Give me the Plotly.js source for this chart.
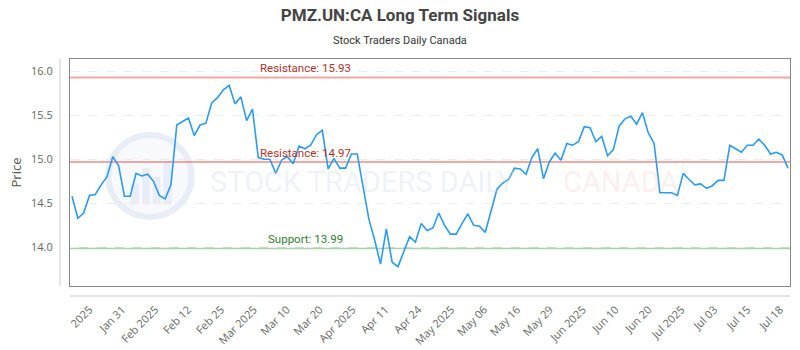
<!DOCTYPE html>
<html><head><meta charset="utf-8">
<script src="https://cdn.plot.ly/plotly-3.0.1.min.js"></script>
<style>html,body{margin:0;padding:0;background:#fff}#chart{width:800px;height:350px}</style>
</head><body><div id="chart"></div>
<script>
const titleText = 'PMZ.UN:CA Long Term Signals';
const subtitleText = 'Stock Traders Daily Canada';
const yAxisLabel = 'Price';

const prices = [
  14.58, 14.33, 14.39, 14.59, 14.60, 14.71, 14.80, 15.03, 14.93, 14.58,
  14.58, 14.84, 14.81, 14.83, 14.75, 14.59, 14.55, 14.71, 15.39, 15.43,
  15.47, 15.27, 15.39, 15.41, 15.64, 15.70, 15.79, 15.84, 15.63, 15.71,
  15.44, 15.57, 15.02, 15.00, 15.00, 14.84, 14.99, 15.03, 14.95, 15.15,
  15.12, 15.16, 15.28, 15.33, 14.89, 15.01, 14.90, 14.90, 15.06, 15.06,
  14.70, 14.32, 14.08, 13.81, 14.21, 13.83, 13.78, 13.94, 14.12, 14.06,
  14.27, 14.19, 14.22, 14.39, 14.25, 14.15, 14.15, 14.27, 14.38, 14.25,
  14.24, 14.17, 14.41, 14.66, 14.73, 14.77, 14.90, 14.89, 14.83, 15.02,
  15.12, 14.78, 14.97, 15.07, 14.99, 15.18, 15.16, 15.20, 15.37, 15.36,
  15.20, 15.26, 15.04, 15.11, 15.38, 15.46, 15.49, 15.40, 15.53, 15.30,
  15.18, 14.62, 14.62, 14.62, 14.59, 14.84, 14.77, 14.71, 14.72, 14.67,
  14.70, 14.76, 14.76, 15.16, 15.12, 15.08, 15.16, 15.16, 15.23, 15.16,
  15.06, 15.08, 15.05, 14.90
];

const tickLabels = ['2025','Jan 31','Feb 2025','Feb 12','Feb 25','Mar 2025','Mar 10','Mar 20',
  'Apr 2025','Apr 11','Apr 24','May 2025','May 06','May 16','May 29','Jun 2025','Jun 10',
  'Jun 20','Jul 2025','Jul 03','Jul 15','Jul 18'];

const resistanceLevels = [15.93, 14.97];
const supportLevels = [13.99];
const yTickValues = [14.0, 14.5, 15.0, 15.5, 16.0];

const xs = prices.map((_, i) => i);
const tickStart = 3.0, tickStep = 5.65;
const tickVals = tickLabels.map((_, k) => tickStart + k * tickStep);

const resColor = 'rgba(238,120,110,0.65)';
const supColor = 'rgba(120,190,120,0.65)';

const shapes = [];
const annotations = [];

// watermark logo
shapes.push({type:'circle', xref:'paper', yref:'paper', x0:0.053, x1:0.169, y0:0.304, y1:0.665,
  line:{color:'rgba(226,232,244,0.8)', width:6}, fillcolor:'rgba(243,245,251,0.6)', layer:'below'});
[[0.085,0.36,0.45],[0.100,0.36,0.52],[0.115,0.36,0.48],[0.130,0.36,0.55]].forEach(b => {
  shapes.push({type:'rect', xref:'paper', yref:'paper', x0:b[0], x1:b[0]+0.011, y0:b[1], y1:b[2],
    line:{width:0}, fillcolor:'rgba(226,232,244,0.7)', layer:'below'});
});

annotations.push({xref:'paper', yref:'paper', x:0.4069, y:(286-182)/227, xanchor:'center', yanchor:'middle',
  text:'STOCK TRADERS DAILY', showarrow:false, borderpad:0,
  font:{family:'Roboto, sans-serif', size:29, color:'rgba(200,212,232,0.3)'}});
annotations.push({xref:'paper', yref:'paper', x:0.7639, y:(286-182)/227, xanchor:'center', yanchor:'middle',
  text:'CANADA', showarrow:false, borderpad:0,
  font:{family:'Roboto, sans-serif', size:29, color:'rgba(250,200,200,0.3)'}});

resistanceLevels.forEach(v => {
  shapes.push({type:'line', xref:'paper', x0:0, x1:1, yref:'y', y0:v, y1:v,
    line:{color:resColor, width:2}, layer:'below'});
  annotations.push({xref:'paper', x:0.3264, xanchor:'center', yref:'y', y:v, yanchor:'middle', yshift:9,
    text:'Resistance: ' + v.toFixed(2), showarrow:false, borderpad:0,
    font:{family:'Roboto, sans-serif', size:11.5, color:'#b0332a'}});
});
supportLevels.forEach(v => {
  shapes.push({type:'line', xref:'paper', x0:0, x1:1, yref:'y', y0:v, y1:v,
    line:{color:supColor, width:2}, layer:'below'});
  annotations.push({xref:'paper', x:0.3264, xanchor:'center', yref:'y', y:v, yanchor:'middle', yshift:9,
    text:'Support: ' + v.toFixed(2), showarrow:false, borderpad:0,
    font:{family:'Roboto, sans-serif', size:11.5, color:'#2e7d32'}});
});

// offset axis lines
shapes.push({type:'line', xref:'paper', x0:-10/720, x1:-10/720, yref:'paper', y0:0, y1:1,
  line:{color:'#cccccc', width:1}});
shapes.push({type:'line', xref:'paper', x0:0, x1:1, yref:'paper', y0:-10/227, y1:-10/227,
  line:{color:'#cccccc', width:1}});

annotations.push({xref:'paper', yref:'paper', x:0.4583, xanchor:'center', y:(286-40)/227, yanchor:'middle',
  text:subtitleText, showarrow:false, font:{family:'Roboto, sans-serif', size:11, color:'#333'}});

const trace = {
  x: xs, y: prices, type:'scatter', mode:'lines',
  line:{color:'#2b9bf0', width:1.6}, hoverinfo:'skip'
};

const layout = {
  width:800, height:350,
  margin:{l:70, r:10, t:59, b:64},
  paper_bgcolor:'#ffffff', plot_bgcolor:'#ffffff',
  showlegend:false,
  title:{text:'<b>'+titleText+'</b>', xref:'container', x:0.5, xanchor:'center',
    yref:'container', y:1-15/350, yanchor:'middle',
    font:{family:'Roboto, sans-serif', size:17, color:'#444'}},
  xaxis:{range:[-0.344, 123.344], tickmode:'array', tickvals:tickVals, ticktext:tickLabels,
    tickangle:-45, showgrid:false, zeroline:false, showline:true, mirror:true,
    linecolor:'#888', linewidth:1, ticks:'', ticklabelstandoff:12,
    tickfont:{family:'Open Sans, sans-serif', size:11, color:'#666'}},
  yaxis:{range:[13.56, 16.14], tickmode:'array', tickvals:yTickValues,
    ticktext:yTickValues.map(v => v.toFixed(1)),
    showgrid:true, gridcolor:'#ececec', griddash:'dash', gridwidth:1,
    zeroline:false, showline:true, mirror:true, linecolor:'#888', linewidth:1,
    ticks:'', ticklabelstandoff:14,
    tickfont:{family:'Open Sans, sans-serif', size:11, color:'#666'},
    title:{text:yAxisLabel, standoff:6, font:{family:'Open Sans, sans-serif', size:13, color:'#555'}}},
  shapes:shapes,
  annotations:annotations
};

Plotly.newPlot('chart', [trace], layout, {staticPlot:true, displayModeBar:false});
</script>
</body></html>
